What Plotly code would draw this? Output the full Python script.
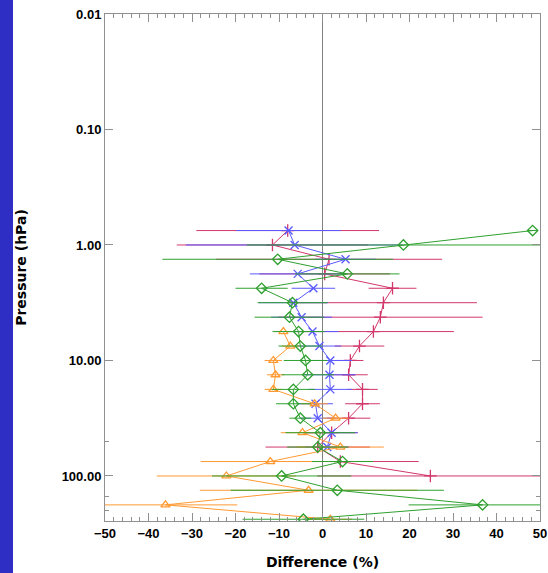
import plotly.graph_objects as go

# Pressure levels (hPa)
levels = [0.75, 1.0, 1.33, 1.78, 2.37, 3.16, 4.22, 5.62, 7.50, 10.0, 13.3,
          17.8, 23.7, 31.6, 42.2, 56.2, 75.0, 100.0, 133.0, 178.0, 237.0]

# Series (difference in %), each starts at a given level index
red_vals = [-8.0, -11.5, 1.5, 0.5, 16.1, 14.0, 13.3, 11.7, 8.5, 6.4, 6.0,
            9.2, 9.2, 6.0, 2.1, -1.1, 4.1, 24.8]
red_err = [21, 22, 26, 15, 5.5, 21.5, 23.5, 18.5, 5.7, 3, 4.4, 3.5, 4, 5,
           6, 12, 18, 26]
red_p = levels[0:18]

blue_vals = [-7.8, -6.4, 5.3, -5.7, -2.1, -6.7, -4.8, -2.3, -0.7, 1.8, 1.6,
             1.8, -1.6, -1.1, 2.1, 1.1]
blue_err = [12, 25, 7, 11, 5, 8, 7, 6, 5, 5, 6, 5, 4, 4, 6, 5]
blue_p = levels[0:16]

green_vals = [48.3, 18.6, -10.3, 5.7, -14.0, -6.9, -7.6, -5.5, -5.1, -3.9,
              -3.4, -6.7, -6.7, -5.1, -0.5, -1.1, 4.6, -9.4, 3.4, 36.8, -4.4]
green_err = [1, 36, 26.5, 12, 6, 8, 8, 6, 5, 5, 6, 5, 4, 2.5, 8, 7, 7, 16,
             24.5, 17, 14]
green_p = levels[0:21]

orange_vals = [-9.0, -7.4, -11.3, -10.8, -11.3, -1.8, 3.0, -4.6, 4.1, -12.0,
               -22.1, -3.2, -36.1, 1.8]
orange_err = [2, 2, 2, 2, 2, 3, 3, 5, 10, 16, 16, 25, 16.5, 5]
orange_p = levels[7:21]

x_ticks = [-50, -40, -30, -20, -10, 0, 10, 20, 30, 40, 50]
y_ticks = [0.01, 0.1, 1, 10, 100]
y_ticktext = ["0.01", "0.10", "1.00", "10.00", "100.00"]

series = [
    (red_vals, red_err, red_p, "#d2386c", "cross-thin-open", 9),
    (blue_vals, blue_err, blue_p, "#5a5aff", "x-thin-open", 8),
    (orange_vals, orange_err, orange_p, "#ff9a33", "triangle-up-open", 8),
    (green_vals, green_err, green_p, "#2fa02f", "diamond-open", 8),
]

fig = go.Figure()
for vals, err, p, col, sym, sz in series:
    fig.add_trace(go.Scatter(
        x=vals, y=p, mode="lines+markers",
        line=dict(color=col, width=1),
        marker=dict(symbol=sym, size=sz, color=col, line=dict(color=col, width=1.3)),
        error_x=dict(type="data", array=err, visible=True, color=col,
                     thickness=1, width=0),
        showlegend=False, cliponaxis=True,
    ))

# zero line
fig.add_shape(type="line", xref="x", yref="paper", x0=0, x1=0, y0=0, y1=1,
              line=dict(color="#808080", width=1), layer="below")

# blue strip at left edge
fig.add_shape(type="rect", xref="paper", yref="paper",
              x0=-105/435, x1=-92/435, y0=-52/507, y1=1 + 14/507,
              line=dict(width=0), fillcolor="#2e2ec4", layer="below")

axis_font = dict(family="Liberation Sans, Arial", size=13, color="black", weight="bold")
title_font = dict(family="DejaVu Sans", size=14, color="black", weight="bold")

fig.update_xaxes(
    range=[-50, 50], tickvals=x_ticks, ticks="inside", ticklen=8,
    tickcolor="#909090", linecolor="#909090", showline=True, mirror="ticks",
    showgrid=False, zeroline=False, tickfont=axis_font, automargin=False,
    minor=dict(dtick=2, ticks="inside", ticklen=4, tickcolor="#909090"),
    title=dict(text="Difference (%)", font=title_font, standoff=17),
)
fig.update_yaxes(
    type="log", range=[2.39, -2], tickvals=y_ticks, ticktext=y_ticktext,
    ticks="inside", ticklen=8, tickcolor="#909090", linecolor="#909090",
    showline=True, mirror="ticks", showgrid=False, zeroline=False,
    tickfont=axis_font, automargin=False,
    minor=dict(ticks="inside", ticklen=4, tickcolor="#909090", showgrid=False),
    title=dict(text="Pressure (hPa)", font=title_font, standoff=31),
)

fig.update_layout(
    width=548, height=573,
    margin=dict(l=105, r=8, t=14, b=52),
    paper_bgcolor="white", plot_bgcolor="white",
)

fig.write_html("out.html")
